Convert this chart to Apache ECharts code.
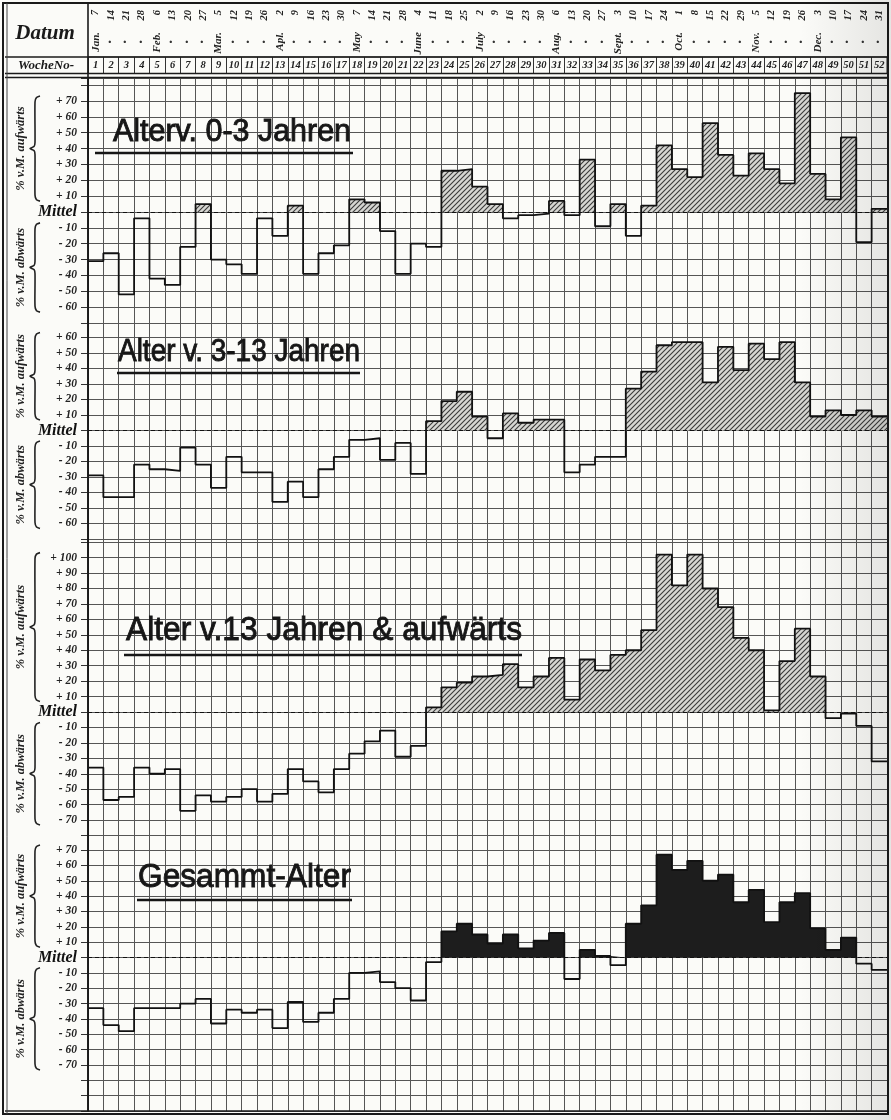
<!DOCTYPE html>
<html><head><meta charset="utf-8">
<script src="https://cdn.jsdelivr.net/npm/echarts@6/dist/echarts.min.js"></script>
<style>html,body{margin:0;padding:0;background:#fbfbf8}#c{width:891px;height:1120px}</style>
</head><body><div id="c"></div>
<script>
// ---------- data ----------
const weeks = Array.from({length: 52}, (_, i) => String(i + 1));
const datumDays = [7,14,21,28,6,13,20,27,5,12,19,26,2,9,16,23,30,7,14,21,28,4,11,18,25,2,9,16,23,30,6,13,20,27,3,10,17,24,1,8,15,22,29,5,12,19,26,3,10,17,24,31];
const datumMonths = ['Jan.','','','','Feb.','','','','Mar.','','','','Apl.','','','','','May','','','','June','','','','July','','','','','Aug.','','','','Sept.','','','','Oct.','','','','','Nov.','','','','Dec.','','','',''];

const alter0_3    = [-31,-26,-52,-4,-42,-46,-22,5,-30,-33,-39,-4,-15,4,-39,-26,-21,8,6,-12,-39,-20,-22,26,27,16,5,-4,-2,-1,7,-2,33,-9,5,-15,4,42,27,22,56,36,23,37,27,18,75,24,8,47,-19,2];
const alter3_13   = [-29,-43,-43,-22,-25,-26,-11,-22,-37,-17,-27,-27,-46,-33,-43,-25,-17,-6,-5,-19,-8,-28,6,19,25,9,-5,11,5,7,7,-27,-22,-17,-17,27,38,55,57,57,31,54,39,56,46,57,31,9,13,10,13,9];
const alter13plus = [-36,-57,-55,-36,-40,-37,-64,-54,-58,-55,-50,-58,-53,-37,-45,-52,-37,-27,-19,-12,-29,-22,3,16,19,23,24,31,16,23,35,8,34,27,37,40,53,102,82,102,80,68,48,40,1,33,54,23,-4,-1,-9,-32];
const gesammt     = [-33,-44,-48,-33,-33,-33,-30,-27,-43,-34,-36,-34,-46,-29,-42,-36,-27,-10,-9,-16,-20,-28,-3,17,22,15,9,15,6,11,16,-14,5,1,-5,22,34,67,57,63,50,54,36,44,23,36,42,19,5,13,-4,-8];

const ticks0_3    = [70,60,50,40,30,20,10,0,-10,-20,-30,-40,-50,-60];
const ticks3_13   = [60,50,40,30,20,10,0,-10,-20,-30,-40,-50,-60];
const ticks13plus = [100,90,80,70,60,50,40,30,20,10,0,-10,-20,-30,-40,-50,-60,-70];
const ticksGes    = [70,60,50,40,30,20,10,0,-10,-20,-30,-40,-50,-60,-70];

const titles = ['Alterv. 0-3 Jahren', 'Alter v. 3-13 Jahren', 'Alter v.13 Jahren & aufwärts', 'Gesammt-Alter'];
const upLabel = '% v.M. aufwärts', downLabel = '% v.M. abwärts';

// ---------- layout ----------
const LEFT = 88, RIGHT = 4;
const layout = [
  {top: 78,    mid: 212,   bottom: 323,  min: -70},
  {top: 323,   mid: 430.5, bottom: 539,  min: -70},
  {top: 539,   mid: 712,   bottom: 835.5, min: -80},
  {top: 835.5, mid: 957.5, bottom: 1111, min: -100}
];
const titleLayout = [
  {x: 113, y: 148, w: 238, size: 31, ul: [95, 353, 153]},
  {x: 118, y: 368, w: 242, size: 32, ul: [117, 360, 373]},
  {x: 126, y: 648, w: 396, size: 34, ul: [124, 522, 655]},
  {x: 138, y: 895, w: 213, size: 34, ul: [137, 352, 900]}
];
const SERIF = '"Liberation Serif","DejaVu Serif",serif';
const GRIDC = '#555555';

function hatch() {
  const s = 5, c = document.createElement('canvas');
  c.width = c.height = s;
  const g = c.getContext('2d');
  g.fillStyle = '#d6d6d2'; g.fillRect(0, 0, s, s);
  g.strokeStyle = '#3a3a3a'; g.lineWidth = 1.1;
  g.beginPath();
  g.moveTo(-1, s + 1); g.lineTo(s + 1, -1);
  g.moveTo(-3, 3); g.lineTo(3, -3);
  g.moveTo(s - 3, s + 3); g.lineTo(s + 3, s - 3);
  g.stroke();
  return c;
}
const hatchPat = {image: hatch(), repeat: 'repeat'};

const panelData = [alter0_3, alter3_13, alter13plus, gesammt];
const panelTicks = [ticks0_3, ticks3_13, ticks13plus, ticksGes];
const fills = [hatchPat, hatchPat, hatchPat, '#1d1d1d'];

const grids = [], xAxes = [], yAxes = [], seriesList = [];
layout.forEach((L, i) => {
  grids.push({left: LEFT, right: RIGHT, top: L.top, height: L.bottom - L.top, show: false});
  xAxes.push({type: 'value', gridIndex: i, min: 0, max: 52, interval: 1,
    axisLine: {show: false}, axisTick: {show: false}, axisLabel: {show: false},
    splitLine: {show: true, lineStyle: {color: GRIDC, width: 1}}});
  const max = -L.min * (L.mid - L.top) / (L.bottom - L.mid);
  const tk = panelTicks[i];
  yAxes.push({type: 'value', gridIndex: i, min: L.min, max: max, interval: 10,
    axisLine: {show: true, lineStyle: {color: '#111', width: 1.6}},
    axisTick: {show: true, length: 7, lineStyle: {color: '#333'}},
    splitLine: {show: true, lineStyle: {color: GRIDC, width: 1}},
    axisLabel: {margin: 11, color: '#222', fontFamily: SERIF, fontStyle: 'italic', fontWeight: 'bold', fontSize: 11.5,
      formatter: v => {
        if (Math.abs(v) < 1e-6) return '{m|Mittel}';
        if (!tk.includes(v)) return '';
        return v > 0 ? '+ ' + v : '- ' + (-v);
      },
      rich: {m: {fontFamily: SERIF, fontStyle: 'italic', fontWeight: 'bold', fontSize: 16, color: '#111'}}}});
  const vals = panelData[i];
  const pts = vals.map((v, k) => [k, v]); pts.push([52, vals[vals.length - 1]]);
  const pos = vals.map((v, k) => [k, Math.max(v, 0)]); pos.push([52, Math.max(vals[vals.length - 1], 0)]);
  seriesList.push({type: 'line', name: 'fill' + i, xAxisIndex: i, yAxisIndex: i, data: pos, step: 'end',
    symbol: 'none', lineStyle: {width: 0, opacity: 0}, areaStyle: {color: fills[i], opacity: 1, origin: 0},
    silent: true, z: 2, animation: false});
  seriesList.push({type: 'line', name: titles[i], xAxisIndex: i, yAxisIndex: i, data: pts, step: 'end',
    symbol: 'none', lineStyle: {color: '#111', width: 1.8}, silent: true, z: 4, animation: false,
    markLine: {silent: true, symbol: ['none', 'none'], label: {show: false}, animation: false,
      lineStyle: {color: '#111', type: [4, 3], width: 1.2}, data: [{yAxis: 0}]}});
});

// header grids: 4 = WocheNo row, 5 = Datum row
grids.push({left: LEFT, right: RIGHT, top: 57, height: 16.5, show: true, borderColor: '#222', borderWidth: 1});
grids.push({left: LEFT, right: RIGHT, top: 4, height: 53, show: false});
xAxes.push({type: 'category', gridIndex: 4, data: weeks, position: 'bottom', offset: -16.5,
  axisLine: {show: false}, axisTick: {show: false},
  splitLine: {show: true, interval: 0, lineStyle: {color: '#333', width: 1}},
  axisLabel: {interval: 0, margin: 3, fontFamily: SERIF, fontStyle: 'italic', fontWeight: 'bold', fontSize: 10.5, color: '#222'}});
xAxes.push({type: 'category', gridIndex: 5, data: datumDays.map(String), position: 'bottom', offset: -48,
  axisLine: {show: false}, axisTick: {show: false}, splitLine: {show: false},
  axisLabel: {interval: 0, rotate: 90, margin: 1, fontFamily: SERIF, fontStyle: 'italic', fontWeight: 'bold', fontSize: 10.5, color: '#222'}});
xAxes.push({type: 'category', gridIndex: 5, data: datumMonths.map(m => m || '·'), position: 'bottom', offset: -26,
  axisLine: {show: false}, axisTick: {show: false}, splitLine: {show: false},
  axisLabel: {interval: 0, rotate: 90, margin: 1, fontFamily: SERIF, fontStyle: 'italic', fontWeight: 'bold', fontSize: 11, color: '#222',
    formatter: m => m === '·' ? '{d|·}' : m,
    rich: {d: {fontSize: 15, fontWeight: 'bold', padding: [0, 8, 0, 0], color: '#333'}}}});
yAxes.push({type: 'value', gridIndex: 4, show: false, min: 0, max: 1});
yAxes.push({type: 'value', gridIndex: 5, show: false, min: 0, max: 1});

const chart = echarts.init(document.getElementById('c'));
chart.setOption({
  animation: false,
  backgroundColor: '#fbfbf8',
  grid: grids, xAxis: xAxes, yAxis: yAxes, series: seriesList
});

// ---------- decorations (text, braces, frame) ----------
const g = [];
const mctx = document.createElement('canvas').getContext('2d');
titles.forEach((t, i) => {
  const T = titleLayout[i];
  const font = T.size + 'px "Liberation Sans","Arial",sans-serif';
  mctx.font = font;
  const sx = T.w / mctx.measureText(t).width;
  g.push({type: 'text', x: T.x, y: T.y, scaleX: sx, z: 50, silent: true,
    style: {text: t, font: font, fill: '#161616', stroke: '#161616', lineWidth: 0.9, align: 'left', verticalAlign: 'bottom'}});
  g.push({type: 'line', z: 50, silent: true, shape: {x1: T.ul[0], y1: T.ul[2], x2: T.ul[1], y2: T.ul[2]},
    style: {stroke: '#161616', lineWidth: 2.6}});
});
function brace(x, y0, y1) {
  const ym = (y0 + y1) / 2;
  return [[x + 5, y0], [x + 1.5, y0 + 1.5], [x, y0 + 6], [x, ym - 6], [x - 1, ym - 2], [x - 5, ym],
          [x - 1, ym + 2], [x, ym + 6], [x, y1 - 6], [x + 1.5, y1 - 1.5], [x + 5, y1]];
}
layout.forEach((L, i) => {
  const tk = panelTicks[i];
  const yOf = v => chart.convertToPixel({yAxisIndex: i}, v);
  const hi = Math.max(...tk), lo = Math.min(...tk);
  const a0 = yOf(hi) - 5, a1 = yOf(10) + 5, b0 = yOf(-10) - 5, b1 = yOf(lo) + 5;
  [[a0, a1, upLabel], [b0, b1, downLabel]].forEach(([p, q, lab]) => {
    g.push({type: 'polyline', z: 50, silent: true, shape: {points: brace(35, p, q), smooth: 0.25},
      style: {stroke: '#222', lineWidth: 1.6, fill: null}});
    g.push({type: 'text', x: 21, y: (p + q) / 2, rotation: Math.PI / 2, z: 50, silent: true,
      style: {text: lab, font: 'italic bold 12.5px ' + SERIF, fill: '#222', align: 'center', verticalAlign: 'middle'}});
  });
});
g.push({type: 'text', x: 45, y: 34, z: 50, silent: true,
  style: {text: 'Datum', font: 'italic bold 21px ' + SERIF, fill: '#1a1a1a', align: 'center', verticalAlign: 'middle'}});
g.push({type: 'text', x: 46, y: 66, z: 50, silent: true,
  style: {text: 'WocheNo-', font: 'italic bold 13px ' + SERIF, fill: '#1a1a1a', align: 'center', verticalAlign: 'middle'}});
// frame & rules
const lines = [
  [5, 57, 887, 57, 1.3], [5, 73.5, 887, 73.5, 1.3], [5, 77.5, 887, 77.5, 1.6],
  [88, 4, 88, 1111, 1.6], [5, 1111, 887, 1111, 1.4]
];
lines.forEach(([x1, y1, x2, y2, w]) => g.push({type: 'line', z: 40, silent: true,
  shape: {x1, y1, x2, y2}, style: {stroke: '#1a1a1a', lineWidth: w}}));
g.push({type: 'rect', z: 40, silent: true, shape: {x: 3, y: 3, width: 885, height: 1111},
  style: {stroke: '#1a1a1a', lineWidth: 2, fill: null}});
g.push({type: 'line', z: 40, silent: true, shape: {x1: 7, y1: 3, x2: 7, y2: 1114}, style: {stroke: '#444', lineWidth: 1}});
g.push({type: 'rect', z: 60, silent: true, shape: {x: 800, y: 0, width: 91, height: 1120},
  style: {fill: {type: 'linear', x: 0, y: 0, x2: 1, y2: 0, colorStops: [
    {offset: 0, color: 'rgba(0,0,0,0)'}, {offset: 1, color: 'rgba(0,0,0,0.09)'}]}}});
chart.setOption({graphic: {elements: g}});
</script>
</body></html>
